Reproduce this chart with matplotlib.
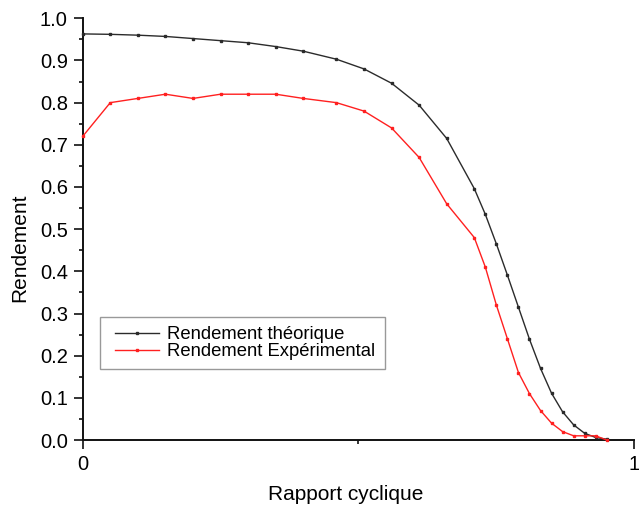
import matplotlib
matplotlib.use("Agg")
import matplotlib.pyplot as plt
from matplotlib.ticker import MultipleLocator, FormatStrFormatter
from matplotlib.legend_handler import HandlerLine2D

plt.rcParams['font.family'] = ['Liberation Sans', 'DejaVu Sans']

# Rapport cyclique (duty cycle)
duty = [0, 0.05, 0.10, 0.15, 0.20, 0.25, 0.30, 0.35, 0.40, 0.46, 0.51, 0.56, 0.61,
        0.66, 0.71, 0.73, 0.75, 0.77, 0.79, 0.81, 0.83, 0.85, 0.87, 0.89, 0.91,
        0.93, 0.95]

# Rendement théorique
eff_theo = [0.963, 0.962, 0.960, 0.957, 0.952, 0.947, 0.942, 0.933, 0.922, 0.903,
            0.880, 0.846, 0.794, 0.715, 0.596, 0.535, 0.465, 0.391, 0.315, 0.239,
            0.170, 0.111, 0.067, 0.036, 0.016, 0.006, 0.002]

# Rendement expérimental
eff_exp = [0.72, 0.80, 0.81, 0.82, 0.81, 0.82, 0.82, 0.82, 0.81, 0.80, 0.78, 0.74,
           0.67, 0.56, 0.48, 0.41, 0.32, 0.24, 0.16, 0.11, 0.07, 0.04, 0.02, 0.01,
           0.01, 0.01, 0.0]

labels = ["Rendement théorique", "Rendement Expérimental"]

fig = plt.figure(figsize=(6.39, 5.07), dpi=100)
ax = fig.add_axes([0.1294, 0.1321, 0.8632, 0.8318])

l1, = ax.plot(duty, eff_theo, color='#2b2b2b', lw=1.0, marker='s', ms=1.9,
              label=labels[0], clip_on=False, zorder=3)
l2, = ax.plot(duty, eff_exp, color='#ff2020', lw=1.0, marker='s', ms=1.9,
              label=labels[1], clip_on=False, zorder=3)

ax.set_xlim(0, 1)
ax.set_ylim(0, 1)
ax.set_xticks([0, 1])
ax.set_xticklabels(['0', '1'])
ax.xaxis.set_minor_locator(MultipleLocator(0.5))
ax.yaxis.set_major_locator(MultipleLocator(0.1))
ax.yaxis.set_minor_locator(MultipleLocator(0.05))
ax.yaxis.set_major_formatter(FormatStrFormatter('%.1f'))

for side in ['top', 'right']:
    ax.spines[side].set_visible(False)
for side in ['left', 'bottom']:
    ax.spines[side].set_linewidth(1.4)
    ax.spines[side].set_color('#111111')

ax.tick_params(which='major', direction='out', length=6.2, width=1.2,
               labelsize=14.5, pad=4.5, color='#111111')
ax.tick_params(which='minor', direction='out', length=3, width=1.2,
               color='#111111')

ax.set_xlabel("Rapport cyclique", fontsize=15)
ax.set_ylabel("Rendement", fontsize=15)
ax.xaxis.set_label_coords(0.477, -0.107)
ax.yaxis.set_label_coords(-0.097, 0.456)

# shift the legend line in from the frame edge
hmap = {l1: HandlerLine2D(xpad=0.32), l2: HandlerLine2D(xpad=0.32)}
leg = ax.legend(loc='upper left', bbox_to_anchor=(0.031, 0.292), borderaxespad=0,
                fontsize=13.3, frameon=True, fancybox=False, handlelength=2.73,
                handletextpad=0.43, borderpad=0.5, labelspacing=0.0,
                handler_map=hmap)
leg.get_frame().set_edgecolor('#808080')
leg.get_frame().set_linewidth(1.0)

fig.savefig("out.png", dpi=100)
